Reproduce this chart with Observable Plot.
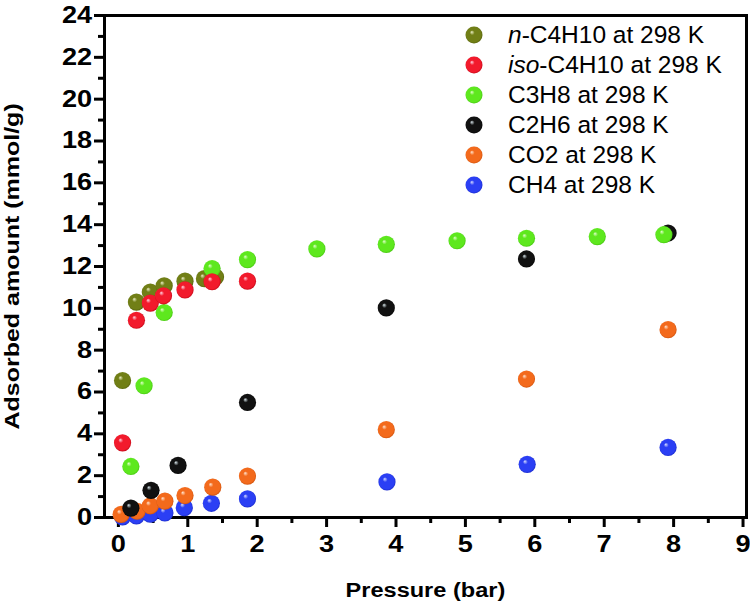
<!DOCTYPE html>
<html>
<head>
<meta charset="utf-8">
<script src="https://cdn.jsdelivr.net/npm/d3@7"></script>
<script src="https://cdn.jsdelivr.net/npm/@observablehq/plot@0.6"></script>
<style>
  html, body { margin: 0; padding: 0; background: #fff; }
  #wrap { position: relative; width: 750px; height: 606px; }
  #legend { position: absolute; left: 465px; top: 20px; font-family: "Liberation Sans", Arial, sans-serif; font-size: 24.5px; color: #000; }
  #legend .row { display: flex; align-items: center; height: 30px; white-space: nowrap; }
  #legend svg { margin-right: 25px; flex: none; }
</style>
</head>
<body>
<svg width="0" height="0" style="position:absolute">
  <defs id="grads"></defs>
</svg>
<div id="wrap">
  <div id="chart"></div>
  <div id="legend"></div>
</div>
<script>
// ---- data ----
const seriesNames = ["n-C4H10 at 298 K", "iso-C4H10 at 298 K", "C3H8 at 298 K", "C2H6 at 298 K", "CO2 at 298 K", "CH4 at 298 K"];
const seriesKeys = ["nC4", "iC4", "C3", "C2", "CO2", "CH4"];

const nC4Pressure = [0.06, 0.26, 0.46, 0.66, 0.96, 1.24, 1.40];
const nC4Amount   = [6.55, 10.3, 10.78, 11.08, 11.3, 11.42, 11.5];

const iC4Pressure = [0.06, 0.26, 0.46, 0.65, 0.96, 1.35, 1.86];
const iC4Amount   = [3.57, 9.43, 10.25, 10.6, 10.88, 11.27, 11.3];

const C3Pressure = [0.18, 0.37, 0.66, 1.35, 1.86, 2.86, 3.86, 4.88, 5.88, 6.90, 7.86];
const C3Amount   = [2.44, 6.3, 9.8, 11.9, 12.33, 12.84, 13.06, 13.23, 13.35, 13.43, 13.52];

const C2Pressure = [0.18, 0.47, 0.86, 1.86, 3.86, 5.88, 7.92];
const C2Amount   = [0.45, 1.3, 2.49, 5.5, 10.02, 12.36, 13.6];

const CO2Pressure = [0.04, 0.27, 0.46, 0.67, 0.96, 1.36, 1.86, 3.86, 5.88, 7.92];
const CO2Amount   = [0.15, 0.3, 0.56, 0.78, 1.05, 1.45, 1.98, 4.2, 6.62, 8.98];

const CH4Pressure = [0.06, 0.26, 0.46, 0.67, 0.95, 1.34, 1.86, 3.87, 5.89, 7.92];
const CH4Amount   = [0.03, 0.08, 0.16, 0.22, 0.47, 0.68, 0.89, 1.7, 2.54, 3.35];

const xTicks = [0, 1, 2, 3, 4, 5, 6, 7, 8, 9];
const xMinorTicks = [0.5, 1.5, 2.5, 3.5, 4.5, 5.5, 6.5, 7.5, 8.5];
const yTicks = [0, 2, 4, 6, 8, 10, 12, 14, 16, 18, 20, 22, 24];
const yMinorTicks = [1, 3, 5, 7, 9, 11, 13, 15, 17, 19, 21, 23];

const xLabel = "Pressure (bar)";
const yLabel = "Adsorbed amount (mmol/g)";

// sphere colours: [highlight, body, edge]
const sphereColors = {
  nC4: ["#eef0c8", "#717f16", "#4c5808"],
  iC4: ["#ffd8e6", "#f21a2c", "#b0000e"],
  C3:  ["#e2ffcc", "#5ee81e", "#3eb80c"],
  C2:  ["#dbe9ee", "#111111", "#000000"],
  CO2: ["#ffe6d2", "#f36a1c", "#c44a06"],
  CH4: ["#d8deff", "#2b3ff4", "#1424bc"]
};

// build gradients
const defs = d3.select("#grads");
for (const k of seriesKeys) {
  const [hi, body, edge] = sphereColors[k];
  const g = defs.append("radialGradient").attr("id", "sph-" + k)
    .attr("cx", "50%").attr("cy", "50%").attr("r", "55%")
    .attr("fx", "36%").attr("fy", "32%");
  g.append("stop").attr("offset", "0%").attr("stop-color", hi);
  g.append("stop").attr("offset", "26%").attr("stop-color", body);
  g.append("stop").attr("offset", "80%").attr("stop-color", body);
  g.append("stop").attr("offset", "100%").attr("stop-color", edge);
}

const toRows = (xs, ys) => xs.map((x, i) => ({x, y: ys[i]}));
const data = {
  nC4: toRows(nC4Pressure, nC4Amount),
  iC4: toRows(iC4Pressure, iC4Amount),
  C3: toRows(C3Pressure, C3Amount),
  C2: toRows(C2Pressure, C2Amount),
  CO2: toRows(CO2Pressure, CO2Amount),
  CH4: toRows(CH4Pressure, CH4Amount)
};

const drawOrder = ["nC4", "CH4", "CO2", "C2", "C3", "iC4"];
const R = 8.6;

const chart = Plot.plot({
  width: 750,
  height: 606,
  marginLeft: 104,
  marginRight: 4,
  marginTop: 15,
  marginBottom: 89,
  style: {fontFamily: "'Liberation Sans', Arial, sans-serif", fontSize: "23px", fontWeight: "bold", color: "#000", background: "#fff", overflow: "visible"},
  x: {domain: [-0.2, 9.05]},
  y: {domain: [0, 24]},
  marks: [
    Plot.frame({strokeWidth: 3}),
    Plot.axisY({ticks: yMinorTicks, tickSize: 6, strokeWidth: 3, tickFormat: () => "", label: null}),
    Plot.axisY({ticks: yTicks, tickSize: 10, tickPadding: 5, strokeWidth: 3, label: null}),
    Plot.axisX({ticks: xMinorTicks, tickSize: 6, strokeWidth: 3, tickFormat: () => "", label: null}),
    Plot.axisX({ticks: xTicks, tickSize: 10, tickPadding: 8, strokeWidth: 3, label: null}),
    Plot.text([xLabel], {text: d => d, frameAnchor: "bottom", textAnchor: "middle", lineAnchor: "middle", dy: 73, fontSize: 20.5, fontWeight: "bold"}),
    Plot.text([yLabel], {text: d => d, frameAnchor: "left", textAnchor: "middle", lineAnchor: "middle", rotate: -90, dx: -92, fontSize: 21, fontWeight: "bold"}),
    ...drawOrder.map(k => Plot.dot(data[k], {x: "x", y: "y", r: R, fill: `url(#sph-${k})`, stroke: "none"}))
  ]
});
document.getElementById("chart").appendChild(chart);

// widen the bold glyphs (reference font is wider than Liberation Sans Bold)
const NS = "http://www.w3.org/2000/svg";
function widen(textEl, s, mode) {
  const svgBox = chart.getBoundingClientRect();
  const b = textEl.getBoundingClientRect();
  const g = document.createElementNS(NS, "g");
  textEl.parentNode.insertBefore(g, textEl);
  g.appendChild(textEl);
  if (mode === "vertical") {
    const ay = b.top - svgBox.top + b.height / 2;
    g.setAttribute("transform", `translate(0 ${ay}) scale(1 ${s}) translate(0 ${-ay})`);
  } else {
    const ax = mode === "right" ? b.right - svgBox.left : b.left - svgBox.left + b.width / 2;
    g.setAttribute("transform", `translate(${ax} 0) scale(${s} 1) translate(${-ax} 0)`);
  }
}
const svgTop = chart.getBoundingClientRect().top;
const allTexts = Array.from(chart.querySelectorAll("text"));
const plans = allTexts.map(t => {
  const txt = t.textContent.trim();
  if (!txt) return null;
  if (txt === yLabel) return [t, 1.19, "vertical"];
  if (txt === xLabel) return [t, 1.15, "center"];
  const r = t.getBoundingClientRect();
  if (r.top - svgTop > 525) return [t, 1.18, "center"];
  return [t, 1.18, "right"];
}).filter(Boolean);
plans.forEach(([t, s, m]) => widen(t, s, m));

// legend
const legend = d3.select("#legend");
seriesKeys.forEach((k, i) => {
  const row = legend.append("div").attr("class", "row");
  const s = row.append("svg").attr("width", 18).attr("height", 18);
  s.append("circle").attr("cx", 9).attr("cy", 9).attr("r", 8.5).attr("fill", `url(#sph-${k})`);
  const name = seriesNames[i];
  const span = row.append("span");
  const m = name.match(/^(n|iso)-(.*)$/);
  if (m) {
    span.append("i").text(m[1]);
    span.append("span").text("-" + m[2]);
  } else {
    span.text(name);
  }
});
</script>
</body>
</html>
